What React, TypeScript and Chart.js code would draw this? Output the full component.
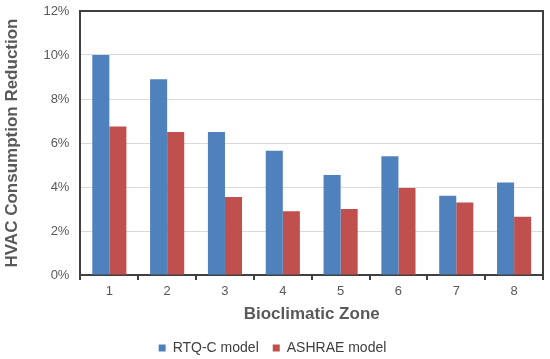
import React, { useEffect, useRef } from "react";
import { Chart, registerables } from "chart.js";

Chart.register(...registerables);

const zones = ["1", "2", "3", "4", "5", "6", "7", "8"];
const rtqc = [10.0, 8.9, 6.5, 5.65, 4.55, 5.4, 3.6, 4.2];
const ashrae = [6.75, 6.5, 3.55, 2.9, 3.0, 3.95, 3.3, 2.65];
const seriesNames = ["RTQ-C model", "ASHRAE model"];

const framePlugin = {
  id: "frame",
  afterDraw(chart: any) {
    const { ctx, chartArea } = chart;
    ctx.save();
    ctx.strokeStyle = "#404040";
    ctx.lineWidth = 2;
    ctx.beginPath();
    ctx.moveTo(chartArea.left, chartArea.top);
    ctx.lineTo(chartArea.right, chartArea.top);
    ctx.lineTo(chartArea.right, chartArea.bottom);
    ctx.stroke();
    ctx.restore();
  },
};

export default function App() {
  const ref = useRef<HTMLCanvasElement>(null);
  useEffect(() => {
    document.body.style.margin = "0";
    const chart = new Chart(ref.current!, {
      type: "bar",
      data: {
        labels: zones,
        datasets: [
          { label: seriesNames[0], data: rtqc, backgroundColor: "#4f81bd" },
          { label: seriesNames[1], data: ashrae, backgroundColor: "#c0504d" },
        ],
      },
      options: {
        animation: false,
        responsive: false,
        maintainAspectRatio: false,
        layout: { padding: { top: 11, right: 7, left: 2, bottom: -6 } },
        datasets: { bar: { barPercentage: 1, categoryPercentage: 0.59 } } as any,
        plugins: {
          legend: {
            position: "bottom",
            labels: {
              boxWidth: 7,
              boxHeight: 7,
              padding: 14,
              color: "#404040",
              font: { family: "Liberation Sans", size: 14 },
            },
          },
          tooltip: { enabled: false },
        },
        scales: {
          x: {
            grid: {
              drawOnChartArea: false,
              drawTicks: true,
              tickLength: 5,
              color: "#404040",
              lineWidth: 2,
              offset: true,
            },
            border: { color: "#404040", width: 2 },
            ticks: {
              color: "#595959",
              padding: 4,
              font: { family: "Liberation Sans", size: 13 },
            },
            title: {
              display: true,
              text: "Bioclimatic Zone",
              color: "#595959",
              padding: { top: 1, bottom: 2 },
              font: { family: "Liberation Sans", size: 17, weight: "bold" },
            },
          },
          y: {
            min: 0,
            max: 12,
            ticks: {
              stepSize: 2,
              color: "#595959",
              padding: 0,
              callback: (v: any) => v + "%",
              font: { family: "Liberation Sans", size: 13 },
            },
            grid: {
              color: "#d9d9d9",
              drawTicks: true,
              tickLength: 11,
              tickColor: "rgba(0,0,0,0)",
              lineWidth: 1,
            },
            border: { color: "#404040", width: 2 },
            title: {
              display: true,
              text: "HVAC Consumption Reduction",
              color: "#595959",
              padding: { top: 0, bottom: 21 },
              font: { family: "Liberation Sans", size: 17, weight: "bold" },
            },
          },
        },
      },
      plugins: [framePlugin],
    });
    return () => chart.destroy();
  }, []);
  return (
    <div style={{ position: "absolute", left: 0, top: 0, width: 550, height: 359 }}>
      <canvas ref={ref} width={550} height={359} style={{ width: 550, height: 359 }} />
    </div>
  );
}
